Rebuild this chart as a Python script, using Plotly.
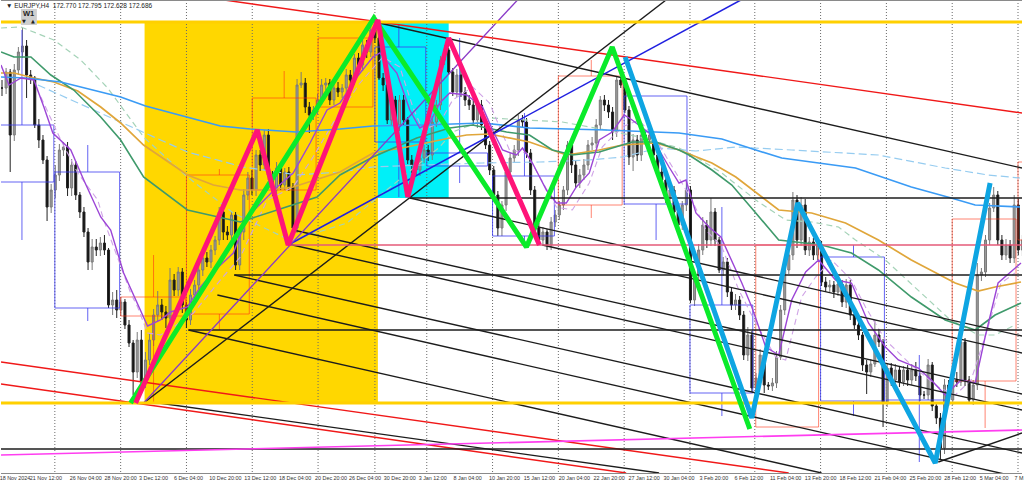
import plotly.graph_objects as go

# ---------- price bars (vertical values, axis runs downwards) ----------
closes = [
 88,72,135,70,52,46,75,78,125,140,
 160,207,190,175,150,147,188,165,195,212,
 232,262,247,250,243,250,305,300,310,302,
 325,343,372,340,382,360,340,315,305,312,
 318,280,290,272,305,320,295,285,270,258,
 262,250,240,212,232,235,215,265,232,195,
 178,190,155,165,135,175,190,168,185,172,
 187,228,85,83,107,115,110,100,85,83,
 100,88,92,88,75,80,58,65,45,52,
 30,38,78,85,120,100,125,100,120,160,
 165,170,158,150,155,122,105,60,50,72,
 92,75,92,100,105,120,105,125,145,170,
 195,228,205,172,158,150,120,122,153,190,
 228,240,232,245,222,215,205,190,145,165,
 183,175,165,145,143,125,100,105,112,132,
 80,85,110,157,140,155,135,140,135,155,
 172,180,198,190,212,225,205,190,300,275,
 250,225,240,212,240,270,262,292,305,300,
 315,355,335,388,378,355,385,386,383,357,
 310,270,255,200,240,205,250,242,255,245,
 282,287,285,292,284,302,285,315,325,335,
 365,372,364,335,342,402,368,380,370,382,
 370,380,370,376,395,395,365,406,418,448,
 385,400,380,382,342,380,400,385,275,272,
 240,208,195,240,255,245,258,205,250,240]
wick_up = [
 8,4,3,6,5,18,6,5,2,6,
 5,4,6,10,6,5,5,6,4,3,
 5,4,8,8,6,8,2,8,10,5,
 3,5,3,8,10,8,6,6,14,6,
 6,12,6,5,4,3,6,5,8,6,
 6,5,4,5,6,6,4,3,5,6,
 6,8,5,5,5,6,4,6,5,4,
 5,4,6,11,5,5,4,6,6,5,
 4,5,6,4,6,5,4,5,6,5,
 8,4,2,5,5,6,4,5,5,3,
 5,4,5,5,5,6,5,4,5,2,
 4,6,6,5,5,6,6,5,4,4,
 4,4,4,5,5,5,5,5,4,4,
 4,5,5,3,5,5,4,4,4,5,
 4,6,6,5,6,6,4,5,5,5,
 4,3,3,4,6,5,6,5,6,4,
 4,5,4,5,4,4,4,8,4,4,
 6,8,5,14,4,3,5,4,5,6,
 4,4,8,4,5,6,4,3,5,6,
 5,6,5,8,5,8,6,5,4,5,
 4,5,5,4,5,4,6,5,5,5,
 3,5,5,15,6,3,5,5,6,4,
 4,5,6,8,4,4,6,3,4,5,
 6,5,8,8,14,4,4,5,12,4,
 5,5,8,4,5,6,5,10,6,5]
wick_down = [
 8,6,37,6,5,6,23,6,3,8,
 4,14,6,8,6,6,8,8,5,6,
 5,8,8,6,6,5,3,10,8,6,
 4,4,23,6,4,6,5,6,6,8,
 10,5,6,6,8,8,5,6,5,6,
 5,6,5,5,8,5,4,5,5,8,
 5,5,6,6,5,5,6,5,5,5,
 4,3,5,3,6,18,5,5,5,5,
 5,5,5,6,5,5,5,5,6,6,
 5,5,2,6,4,6,6,6,5,4,
 8,5,6,5,6,5,5,5,5,3,
 4,5,5,6,5,6,8,5,4,5,
 5,8,8,6,5,5,6,5,5,5,
 6,4,6,5,5,5,5,5,5,8,
 5,5,5,5,5,5,5,6,6,8,
 5,3,3,8,14,6,6,5,8,5,
 5,5,5,6,5,5,5,6,3,6,
 6,5,8,6,6,3,6,5,5,5,
 5,5,6,4,5,6,8,4,5,5,
 3,5,4,5,8,6,5,6,5,5,
 4,5,5,6,4,5,6,5,4,5,
 6,22,5,3,5,25,5,6,5,5,
 4,6,5,5,6,4,5,5,6,12,
 6,6,5,5,4,6,4,5,5,6,
 5,5,4,5,5,5,5,5,5,6]

# ---------- moving averages ----------
ma_blue_x = [0,25,60,80,100,120,145,185,220,250,296,340,373,423,483,530,607,680,723,757,783,857,913,953,977,1022]
ma_blue_y = [77,78,82,87,92,97,106,117,126,129,132,129,126,125,123,128,130,133,139,150,158,168,187,198,205,207]
ma_sky_x = [37,77,143,187,243,297,340,373,423,483,540,590,623,660,697,737,793,880,947,990,1022]
ma_sky_y = [85,103,132,152,167,175,172,167,165,163,162,160,157,148,151,147,150,155,168,175,178]
ma_orange_x = [0,13,33,53,77,100,120,143,187,213,240,267,293,340,373,407,450,467,490,530,567,600,623,657,680,713,737,763,780,813,847,880,913,957,980,997,1023]
ma_orange_y = [73,73,78,82,91,107,123,145,175,185,190,190,187,172,153,147,138,135,134,142,155,150,145,143,150,163,177,197,210,213,223,240,260,283,291,287,282]
ma_green_x = [0,13,30,50,73,100,120,143,187,240,283,317,340,373,417,450,473,507,530,553,573,600,633,657,680,690,713,733,757,780,823,853,880,913,947,977,997,1023]
ma_green_y = [52,57,57,75,90,117,140,177,210,222,208,197,175,157,138,128,125,132,135,150,155,152,142,142,150,155,170,185,213,240,245,253,270,297,320,330,315,303]
ma_pale_x = [0,20,53,80,107,143,187,233,283,293,347,383,440,453,490,530,563,607,640,680,697,723,757,787,813,840,857,887,920,950,980,997,1017]
ma_pale_y = [28,27,40,60,88,137,177,213,237,240,223,193,147,132,118,120,122,130,137,148,157,173,200,220,222,227,240,260,290,318,335,335,325]
ma_purple_x = [0,8,20,33,43,52,70,83,100,110,123,137,147,160,170,187,200,217,233,247,277,293,310,327,340,357,373,380,397,410,420,430,440,450,467,483,493,503,517,523,533,547,557,567,577,590,600,613,625,633,650,670,680,687,697,710,722,743,753,767,780,793,807,820,837,853,870,887,900,920,933,947,963,977,987,1000,1023]
ma_purple_y = [65,85,78,80,107,133,150,180,217,230,273,303,326,320,312,307,287,268,253,217,187,173,143,110,103,77,57,53,73,110,128,123,103,93,95,107,130,150,155,148,163,190,203,203,187,173,140,132,115,120,133,167,183,180,213,227,237,283,307,347,355,300,272,260,280,283,323,347,360,368,380,395,380,383,337,283,263]
ma_lilac_x = [40,60,77,97,103,130,137,147,160,173,193,220,240,267,293,313,333,360,383,400,413,423,440,453,473,490,500,510,527,540,557,573,590,603,623,640,657,677,693,707,723,740,757,777,787,803,817,833,853,867,887,913,940,957,973,990,1003,1017]
ma_lilac_y = [97,140,173,200,220,293,307,333,335,327,313,280,257,200,187,157,123,83,57,67,107,130,123,100,87,103,127,150,153,177,207,210,183,147,127,120,140,173,200,230,247,290,323,357,360,297,277,260,280,307,340,365,387,395,380,327,283,273]

# ---------- swing lines ----------
swing_green_x = [130,374,527,613,751]
swing_green_y = [403,18,247,47,429]
swing_pink_x = [135,257,288,378,408,449,540]
swing_pink_y = [403,130,245,20,197,38,245]
swing_sky_x = [626,753,799,937,992]
swing_sky_y = [57,418,203,463,183]

# ---------- channel and level lines: start x, start y, end x, end y ----------
black_lines = [
 [375,22,1024,168],[410,198,1024,336],[543,245,1024,353],[293,230,1024,394],
 [288,244,1024,410],[234,275,1024,453],[217,295,1024,478],[188,330,823,473],
 [158,403,660,473],[143,403,667,0],[940,462,1024,433],
 [410,198,1024,198],[234,275,1024,275],[188,330,1024,330],[0,449,1024,449]]
red_lines = [[224,0,1024,113],[0,362,790,473],[0,384,627,473]]
blue_line = [288,245,742,0]
purple_line = [143,403,518,0]
magenta_line = [0,455,1024,430]
rose_level = [288,245,1024,245]
gold_levels = [22,403]

# ---------- higher timeframe boxes ----------
blue_box_left = [-12,54,375,427,493,625,691,822,888]
blue_box_right = [53,119,426,488,555,688,754,886,947]
blue_box_top = [125,172,47,153,176,96,305,257,400]
blue_box_bottom = [182,308,142,166,236,204,393,401,403]
blue_wick_x = [21,21,87,87,399,399,460,460,525,525,657,723,723,855,855,921]
blue_wick_top = [30,182,145,308,24,142,38,166,113,236,204,207,393,245,401,355]
blue_wick_bottom = [125,240,172,321,47,197,153,183,176,248,240,305,416,257,416,462]
red_box_left = [120,186,252,318,559,757,954,1020]
red_box_right = [185,249,316,373,623,820,1018,1030]
red_box_top = [297,175,98,38,76,245,219,162]
red_box_bottom = [316,314,190,107,205,427,381,240]
red_wick_x = [153,153,219,219,284,592,592,987]
red_wick_top = [255,316,169,314,71,60,205,381]
red_wick_bottom = [297,403,175,330,98,76,218,428]

# ---------- time axis ----------
grid_x = [54,120,186,252,318,375,427,493,559,625,691,756,822,888,954,1020]
tick_x = [14,45,85,120,153,188,225,260,295,331,365,400,433,468,505,540,575,610,645,680,715,750,787,822,857,892,927,962,996,1021]
tick_text = ["18 Nov 2024","21 Nov 12:00","26 Nov 04:00","28 Nov 20:00","3 Dec 12:00","6 Dec 04:00","10 Dec 20:00",
             "13 Dec 12:00","18 Dec 04:00","20 Dec 20:00","26 Dec 04:00","30 Dec 20:00","3 Jan 12:00","8 Jan 04:00",
             "10 Jan 20:00","15 Jan 12:00","20 Jan 04:00","22 Jan 20:00","27 Jan 12:00","30 Jan 04:00","3 Feb 20:00",
             "6 Feb 12:00","11 Feb 04:00","13 Feb 20:00","18 Feb 12:00","21 Feb 04:00","25 Feb 20:00","28 Feb 12:00",
             "5 Mar 04:00","7 M"]
header = "▼ EURJPY,H4  172.770 172.795 172.628 172.686"

FONT = "Liberation Sans"
fig = go.Figure()

def line(x, y, color, width=1, dash="solid"):
    fig.add_trace(go.Scatter(x=x, y=y, mode="lines", line=dict(color=color, width=width, dash=dash),
                             hoverinfo="skip", showlegend=False))

def segments(rows, color, width=1):
    xs, ys = [], []
    for a, b, c, d in rows:
        xs += [a, c, None]
        ys += [b, d, None]
    line(xs, ys, color, width)

def boxes(left, right, top, bottom, wx, wt, wb, color):
    xs, ys = [], []
    for a, b, c, d in zip(left, right, top, bottom):
        xs += [a, b, b, a, a, None]
        ys += [c, c, d, d, c, None]
    for a, b, c in zip(wx, wt, wb):
        xs += [a, a, None]
        ys += [b, c, None]
    line(xs, ys, color, 1)

# zones
fig.add_shape(type="rect", x0=144, x1=378, y0=22, y1=403, fillcolor="#FFD700", line_width=0, layer="below")
fig.add_shape(type="rect", x0=378, x1=449, y0=22, y1=198, fillcolor="#00F0F8", line_width=0, layer="below")
for gx in grid_x:
    fig.add_shape(type="line", x0=gx, x1=gx, y0=0, y1=473, line=dict(color="#6a6a6a", width=1, dash="1px,2px"), layer="below")

boxes(blue_box_left, blue_box_right, blue_box_top, blue_box_bottom, blue_wick_x, blue_wick_top, blue_wick_bottom, "rgba(60,60,240,0.8)")
boxes(red_box_left, red_box_right, red_box_top, red_box_bottom, red_wick_x, red_wick_top, red_wick_bottom, "rgba(255,50,20,0.6)")

# bars
bar_x = [1 + 4.11 * i for i in range(len(closes))]
opens = [closes[0]] + closes[:-1]
tops = [min(o, c) - u for o, c, u in zip(opens, closes, wick_up)]
bottoms = [max(o, c) + d for o, c, d in zip(opens, closes, wick_down)]
fig.add_trace(go.Candlestick(
    x=bar_x, open=opens, close=closes, high=bottoms, low=tops, whiskerwidth=0,
    increasing=dict(line=dict(color="#222222", width=1), fillcolor="#111111"),
    decreasing=dict(line=dict(color="#7a7a7a", width=1), fillcolor="#9a9a9a"),
    hoverinfo="skip", showlegend=False))

# moving averages
line(ma_pale_x, ma_pale_y, "#A5D3B8", 1.2, "6px,4px")
line(ma_sky_x, ma_sky_y, "#96CCF0", 1.2, "8px,4px")
line(ma_lilac_x, ma_lilac_y, "#CFA3E6", 1.1, "6px,4px")
line(ma_orange_x, ma_orange_y, "#E0A63A", 1.7)
line(ma_green_x, ma_green_y, "#3F9A6B", 1.6)
line(ma_blue_x, ma_blue_y, "#3A9BF5", 1.7)
line(ma_purple_x, ma_purple_y, "#9C45D6", 1.4)

# channels and levels
segments(red_lines, "#F01818", 1.4)
segments(black_lines, "#1c1c1c", 1.4)
segments([rose_level], "#E45A78", 1.5)
segments([magenta_line], "#FF3DF0", 1.6)
segments([blue_line], "#2020E0", 1.5)
segments([purple_line], "#8A3AC8", 1.3)
for level in gold_levels:
    line([0, 1024], [level, level], "#FFD000", 2.8)

# swings
line(swing_green_x, swing_green_y, "#0AEB2A", 5)
line(swing_pink_x, swing_pink_y, "#FF1478", 5)
line(swing_sky_x, swing_sky_y, "#0EA5E2", 5)

# header and W1 button
fig.add_annotation(x=3, y=5.5, text=header, showarrow=False, xanchor="left", yanchor="middle",
                   font=dict(family=FONT, size=6.5, color="#222222"))
fig.add_shape(type="rect", x0=20, x1=36, y0=9, y1=25, fillcolor="#CFCFCF", line_width=0)
fig.add_annotation(x=28, y=13, text="<b>W1</b>", showarrow=False, font=dict(family=FONT, size=7.5, color="#222222"))
fig.add_annotation(x=23.5, y=21, text="▼", showarrow=False, font=dict(family="DejaVu Sans", size=5, color="#222222"))
fig.add_annotation(x=32, y=21, text="▲", showarrow=False, font=dict(family="DejaVu Sans", size=5, color="#222222"))

fig.update_layout(
    width=1024, height=485, margin=dict(l=0, r=0, t=0, b=12),
    paper_bgcolor="white", plot_bgcolor="white", showlegend=False,
    xaxis=dict(range=[0, 1024], rangeslider=dict(visible=False), showgrid=False, zeroline=False,
               tickmode="array", tickvals=tick_x, ticktext=tick_text, ticks="", tickangle=0,
               ticklabeloverflow="allow",
               tickfont=dict(family=FONT, size=5.4, color="#333333"),
               showline=True, linecolor="#8a8a8a", linewidth=1),
    yaxis=dict(range=[473, 0], showgrid=False, zeroline=False, showticklabels=False, ticks="",
               showline=False),
)
fig.add_shape(type="line", x0=0, x1=1024, y0=0.5, y1=0.5, line=dict(color="#8a8a8a", width=1))
fig.write_html("out.html", config={"displayModeBar": False},
               post_script="document.body.style.margin='0';document.body.style.overflow='hidden';")
